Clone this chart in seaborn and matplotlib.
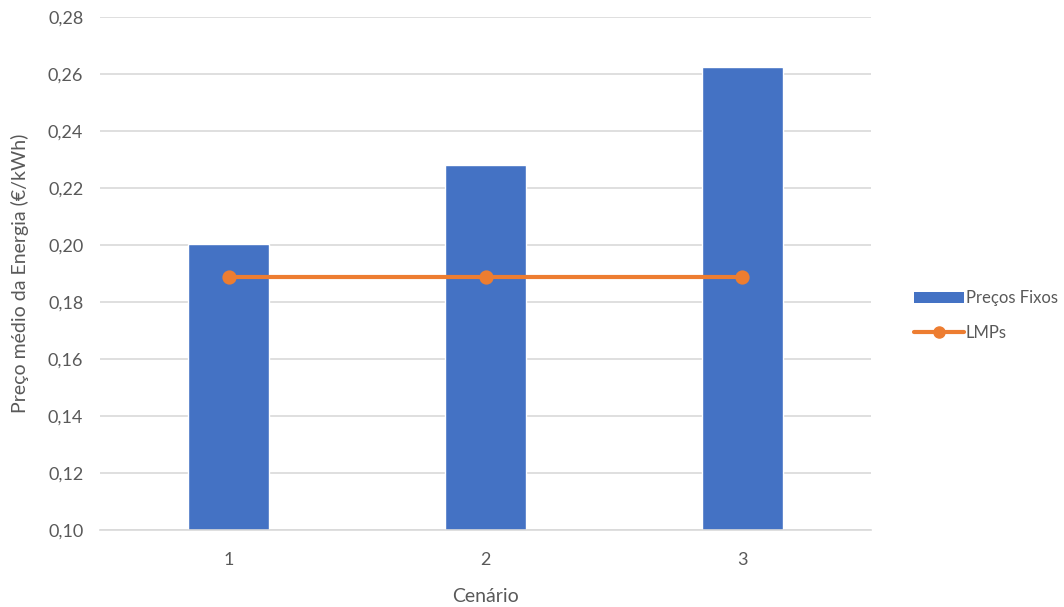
import matplotlib
matplotlib.use('Agg')
import matplotlib.pyplot as plt
from matplotlib.lines import Line2D
from matplotlib.patches import Patch
import seaborn as sns
import numpy as np

cenarios = ['1', '2', '3']
precos_fixos = [0.2005, 0.2280, 0.2624]
lmps = [0.1889, 0.1889, 0.1889]

sns.set_theme(style='white')
plt.rcParams['font.family'] = ['Lato', 'DejaVu Sans']

grey = '#595959'
blue = '#4472C4'
orange = '#ED7D31'

fig = plt.figure(figsize=(10.64, 6.07), dpi=100)
ax = fig.add_axes([0.094, 0.127, 0.7246, 0.845])

sns.barplot(x=cenarios, y=precos_fixos, color=blue, width=0.315, saturation=1, ax=ax, zorder=2)
sns.pointplot(x=cenarios, y=lmps, color=orange, ax=ax, markers='o', linewidth=3,
              markersize=8, zorder=3)

ax.set_ylim(0.10, 0.28)
ax.set_xlim(-0.5, 2.5)
ax.set_yticks(np.arange(0.10, 0.2801, 0.02))
ax.set_yticklabels([f'{v:.2f}'.replace('.', ',') for v in np.arange(0.10, 0.2801, 0.02)])
ax.yaxis.grid(True, color='#D9D9D9', lw=1.2, zorder=0)
ax.set_axisbelow(True)
for s in ['top', 'right', 'left']:
    ax.spines[s].set_visible(False)
ax.spines['bottom'].set_color('#D9D9D9')
ax.spines['bottom'].set_linewidth(1.2)
ax.tick_params(axis='y', length=0, colors=grey, labelsize=13, pad=12)
ax.tick_params(axis='x', length=0, colors=grey, labelsize=13, pad=16)
ax.set_xlabel('Cenário', color=grey, fontsize=14, labelpad=14)
ax.set_ylabel('Preço médio da Energia (€/kWh)', color=grey, fontsize=14, labelpad=14)

handles = [Patch(facecolor=blue, edgecolor='none'),
           Line2D([0], [0], color=orange, lw=3, marker='o', markersize=8)]
leg = fig.legend(handles, ['Preços Fixos', 'LMPs'], loc='center left',
                 bbox_to_anchor=(0.845, 0.48), frameon=False, fontsize=12,
                 handlelength=3.0, handletextpad=0.1, labelspacing=1.1,
                 handleheight=0.6)
for t in leg.get_texts():
    t.set_color(grey)

fig.savefig('out.png', dpi=100)
